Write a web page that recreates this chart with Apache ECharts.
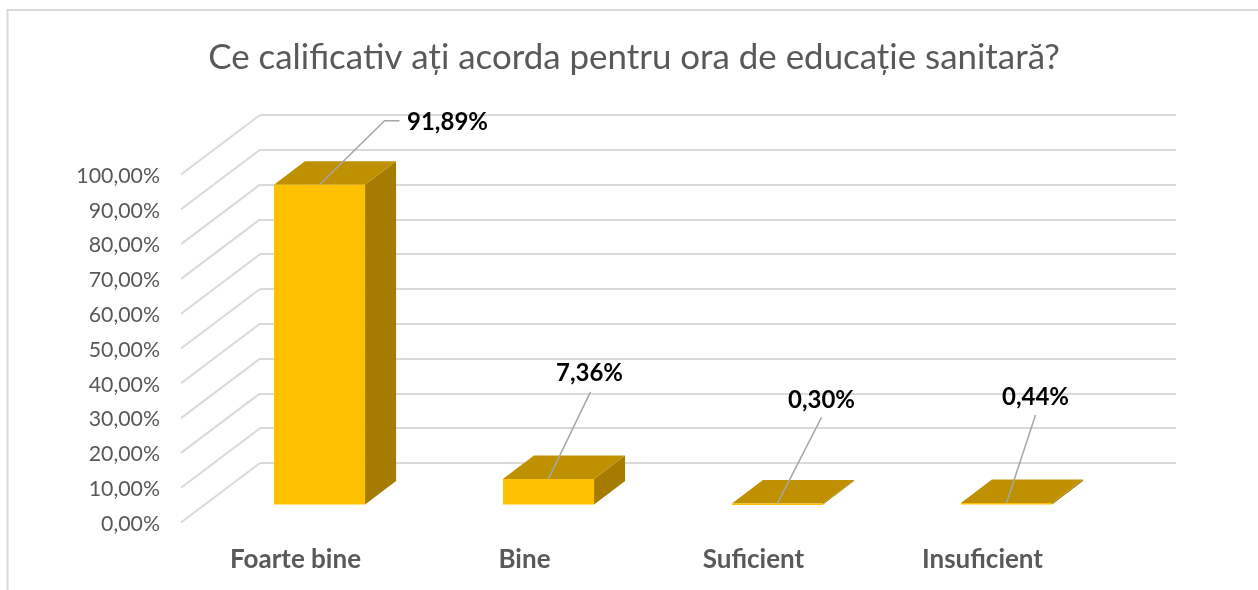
<!DOCTYPE html>
<html>
<head>
<meta charset="utf-8">
<script src="https://cdn.jsdelivr.net/npm/echarts@6/dist/echarts.min.js"></script>
<style>
  html, body { margin: 0; padding: 0; background: #fff; }
  #chart { width: 1258px; height: 590px; }
</style>
</head>
<body>
<div id="chart"></div>
<script>
const titleText = 'Ce calificativ ați acorda pentru ora de educație sanitară?';
const categories = ['Foarte bine', 'Bine', 'Suficient', 'Insuficient'];
const percentValues = [91.89, 7.36, 0.30, 0.44];
const tickValues = [0, 10, 20, 30, 40, 50, 60, 70, 80, 90, 100];

// leader line + label placement, relative to the bar's front top edge
const leaderEnds = [[65, -64], [42, -87], [44, -86], [29, -88]];
const labelOffsets = [[128, -62], [41, -106], [44, -103], [29, -106]];

const font = 'Lato, "Open Sans", sans-serif';
const wallDx = 79, wallDy = -59.5;   // floor depth of the chart
const barDx = 24, barDy = -18;       // where the bars stand on the floor
const topDx = 31, topDy = -23.5;     // depth of the bar itself

const fmt = v => v.toFixed(2).replace('.', ',') + '%';

function renderWall(params, api) {
  const v = api.value(0);
  const y = api.coord([0, v])[1];
  const x = params.coordSys.x;
  return {
    type: 'line',
    shape: { x1: x, y1: y, x2: x + wallDx, y2: y + wallDy },
    style: { stroke: '#DADADA', lineWidth: 2 }
  };
}

function renderBar(params, api) {
  const i = api.value(0);
  const v = api.value(1);
  const base = api.coord([i, 0]);
  const top = api.coord([i, v]);
  const w = api.size([1, 0])[0] * 0.398;
  const l = base[0] + barDx - w / 2;
  const r = l + w;
  const yb = base[1] + barDy;
  const yt = top[1] + barDy;
  const mid = l + w / 2;
  const end = leaderEnds[i];
  const off = labelOffsets[i];
  const pts = [[mid, yt], [mid + end[0], yt + end[1]]];
  if (i === 0) pts.push([mid + end[0] + 15, yt + end[1]]);
  return {
    type: 'group',
    children: [
      { type: 'polygon', shape: { points: [[r, yb], [r + topDx, yb + topDy], [r + topDx, yt + topDy], [r, yt]] }, style: { fill: '#A67C00' } },
      { type: 'polygon', shape: { points: [[l, yt], [l + topDx, yt + topDy], [r + topDx, yt + topDy], [r, yt]] }, style: { fill: '#BF9000' } },
      { type: 'rect', shape: { x: l, y: yt, width: w, height: Math.max(yb - yt, 1.5) }, style: { fill: '#FFC000' } },
      { type: 'polyline', shape: { points: pts }, style: { stroke: '#A6A6A6', lineWidth: 1.5, fill: 'none' } },
      { type: 'text', x: mid + off[0], y: yt + off[1], style: { text: fmt(v), fill: '#000', font: 'bold 24px ' + font, align: 'center', verticalAlign: 'middle' } }
    ]
  };
}

const chart = echarts.init(document.getElementById('chart'), null, { renderer: 'canvas' });
chart.setOption({
  animation: false,
  backgroundColor: '#fff',
  title: {
    text: titleText,
    left: 629,
    top: 35,
    textAlign: 'center',
    textStyle: { fontFamily: font, fontSize: 34.9, fontWeight: 'normal', color: '#595959' }
  },
  graphic: [
    { type: 'polyline', shape: { points: [[7.5, 590], [7.5, 10], [1258, 10]] }, style: { stroke: '#D9D9D9', lineWidth: 2, fill: 'none' } }
  ],
  grid: [
    { left: 181, top: 174.5, width: 916, height: 348 },
    { left: 260, top: 115, width: 916, height: 348 }
  ],
  xAxis: [
    {
      type: 'category', gridIndex: 0, data: categories,
      axisLine: { show: false }, axisTick: { show: false },
      axisLabel: { margin: 24, fontFamily: font, fontSize: 26, fontWeight: 'bold', color: '#595959' }
    },
    { type: 'category', gridIndex: 1, data: categories, show: false }
  ],
  yAxis: [
    {
      type: 'value', gridIndex: 0, min: 0, max: 100, interval: 10,
      axisLine: { show: false }, axisTick: { show: false }, splitLine: { show: false },
      axisLabel: { margin: 21, verticalAlign: 'top', lineHeight: 3, formatter: fmt, fontFamily: font, fontSize: 21.3, color: '#595959' }
    },
    {
      type: 'value', gridIndex: 1, min: 0, max: 100, interval: 10,
      axisLine: { show: false }, axisTick: { show: false }, axisLabel: { show: false },
      splitLine: { show: true, lineStyle: { color: '#DADADA', width: 2 } }
    }
  ],
  series: [
    {
      type: 'custom', xAxisIndex: 0, yAxisIndex: 0, silent: true, z: 1,
      data: tickValues.map(v => [v]), encode: { y: 0 }, renderItem: renderWall
    },
    {
      type: 'custom', xAxisIndex: 0, yAxisIndex: 0, silent: true, z: 2, clip: false,
      data: percentValues.map((v, i) => [i, v]), encode: { x: 0, y: 1 }, renderItem: renderBar
    }
  ]
});
</script>
</body>
</html>
